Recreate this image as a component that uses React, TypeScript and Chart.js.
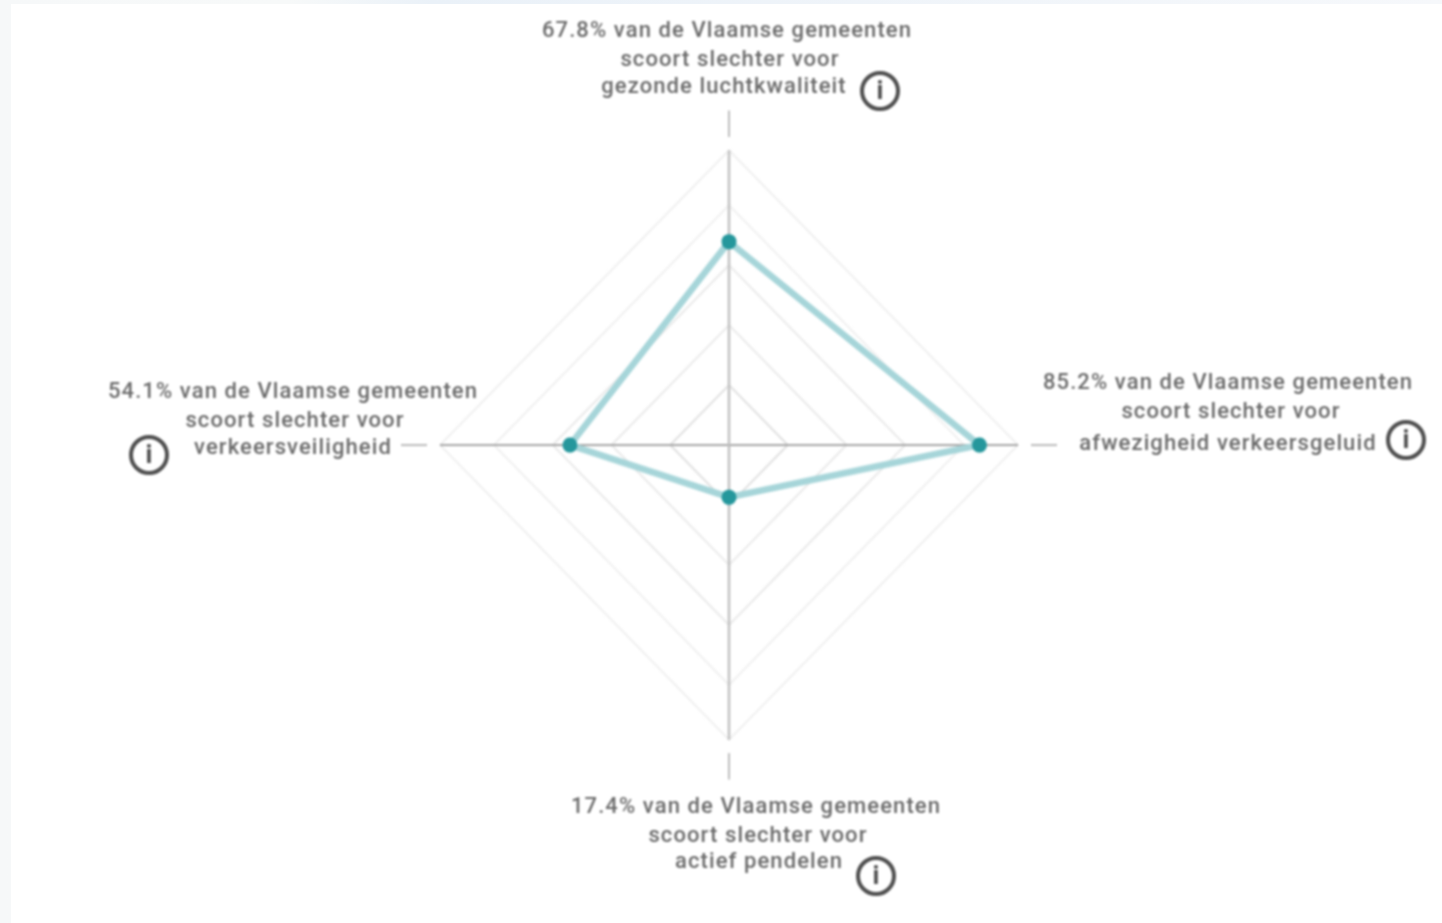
import React, { useEffect, useRef } from "react";
import { Chart, registerables } from "chart.js";

Chart.register(...registerables);

const categories = ["gezonde luchtkwaliteit", "afwezigheid verkeersgeluid", "actief pendelen", "verkeersveiligheid"];
const percentages = [67.8, 85.2, 17.4, 54.1];
const scaleMax = 98.3;
const scaleStep = 20;
const middleLine = "scoort slechter voor";
const firstLine = (v: number) => `${v}% van de Vlaamse gemeenten`;

// layout of each label: centre x of the three lines, centre y of the three lines, icon centre
const labelLayout = [
  { xs: [727, 730, 724], ys: [30, 59, 86], icon: [880, 91] },
  { xs: [1228, 1231, 1228], ys: [382, 411, 443], icon: [1406, 440] },
  { xs: [756, 758, 759], ys: [806, 835, 861], icon: [876, 876] },
  { xs: [293, 295, 293], ys: [391, 420, 447], icon: [149, 455] },
];

const CX = 729;
const CY = 445;
const HALF = 350;
const RADIUS = 289;

const tickMarks = {
  id: "tickMarks",
  afterDraw(chart: any) {
    const s = chart.scales.r;
    const { ctx } = chart;
    ctx.save();
    ctx.strokeStyle = "#bcbcbc";
    ctx.lineWidth = 2;
    categories.forEach((_, i) => {
      const a = s.getPointPosition(i, s.drawingArea * 1.045);
      const b = s.getPointPosition(i, s.drawingArea * 1.135);
      ctx.beginPath();
      ctx.moveTo(a.x, a.y);
      ctx.lineTo(b.x, b.y);
      ctx.stroke();
    });
    ctx.restore();
  },
};

export default function App() {
  const ref = useRef<HTMLCanvasElement>(null);
  useEffect(() => {
    document.body.style.margin = "0";
    const chart = new Chart(ref.current!, {
      type: "radar",
      data: {
        labels: categories,
        datasets: [
          {
            data: percentages,
            borderColor: "#a6d5d9",
            borderWidth: 6.5,
            backgroundColor: "transparent",
            fill: false,
            tension: 0,
            pointRadius: 7.5,
            pointHoverRadius: 7.5,
            pointBorderWidth: 0,
            pointBackgroundColor: "#25979c",
          },
        ],
      },
      plugins: [tickMarks],
      options: {
        animation: false,
        responsive: false,
        layout: { padding: HALF - RADIUS },
        plugins: { legend: { display: false }, tooltip: { enabled: false } },
        scales: {
          r: {
            min: 0,
            max: scaleMax,
            ticks: { display: false, stepSize: scaleStep },
            pointLabels: { display: false },
            grid: {
              color: (c: any) => (c.index >= 4 ? "#efefef" : c.index >= 2 ? "#e8e8e8" : "#dedede"),
              lineWidth: 1.8,
            },
            angleLines: {
              color: (c: any) => (c.index % 2 === 0 ? "#c2c2c2" : "#a8a8a8"),
              lineWidth: (c: any) => (c.index % 2 === 0 ? 2.6 : 1.8),
            },
          },
        },
      } as any,
    });
    return () => chart.destroy();
  }, []);

  return (
    <div
      style={{
        position: "absolute",
        left: 0,
        top: 0,
        width: 1442,
        height: 923,
        overflow: "hidden",
        background: "linear-gradient(90deg,#f6f8f9 0%,#f7f9f9 20%,#eaf1f8 30%,#f6f8fb 100%)",
      }}
    >
      <div style={{ position: "absolute", left: 11, top: 4, right: 0, bottom: 0, background: "#fff" }} />
      <div style={{ position: "absolute", inset: 0, filter: "blur(0.8px)" }}>
        <canvas
          ref={ref}
          width={HALF * 2}
          height={HALF * 2}
          style={{
            position: "absolute",
            left: CX - HALF,
            top: CY - HALF,
            transform: "scaleY(1.02)",
            transformOrigin: "50% 50%",
          }}
        />
        {categories.map((cat, i) => {
          const l = labelLayout[i];
          const lines = [firstLine(percentages[i]), middleLine, cat];
          return (
            <React.Fragment key={cat}>
              {lines.map((t, j) => (
                <div
                  key={j}
                  style={{
                    position: "absolute",
                    left: l.xs[j] - 300,
                    top: l.ys[j] - 15,
                    width: 600,
                    height: 30,
                    lineHeight: "30px",
                    textAlign: "center",
                    whiteSpace: "nowrap",
                    fontFamily: "Roboto, sans-serif",
                    fontWeight: 500,
                    fontSize: 22,
                    letterSpacing: "1.1px",
                    color: "#6a6a6a",
                  }}
                >
                  {t}
                </div>
              ))}
              <div
                style={{
                  position: "absolute",
                  left: l.icon[0] - 20,
                  top: l.icon[1] - 20,
                  width: 40,
                  height: 40,
                  boxSizing: "border-box",
                  border: "4px solid #4f4f4f",
                  borderRadius: "50%",
                  textAlign: "center",
                  lineHeight: "31px",
                  fontFamily: "Roboto, sans-serif",
                  fontWeight: 700,
                  fontSize: 26,
                  color: "#4f4f4f",
                }}
              >
                i
              </div>
            </React.Fragment>
          );
        })}
      </div>
    </div>
  );
}
